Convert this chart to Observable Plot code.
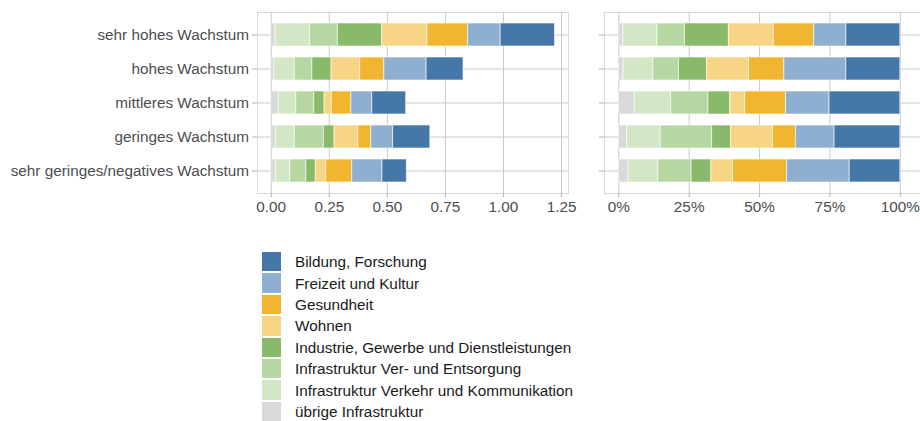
<!DOCTYPE html>
<html><head><meta charset="utf-8">
<script src="https://cdn.jsdelivr.net/npm/d3@7"></script>
<script src="https://cdn.jsdelivr.net/npm/@observablehq/plot@0.6"></script>
<style>
body{margin:0;background:#fff;font-family:"Liberation Sans",Arial,sans-serif;}
#wrap{position:relative;width:920px;height:421px;overflow:hidden;background:#fff;}
#left{position:absolute;left:0;top:0;}
#right{position:absolute;left:580px;top:0;}
#legend{position:absolute;left:262px;top:251px;}
.item{display:flex;align-items:center;height:21.4px;}
.sw{width:19px;height:19.4px;margin-right:14px;flex:none;}
.lab{font-size:15.3px;line-height:17px;color:#1a1a1a;white-space:nowrap;}
</style></head><body>
<div id="wrap"><div id="left"></div><div id="right"></div><div id="legend"></div></div>
<script>
// growth classes (rows, top to bottom)
const categories = ["sehr hohes Wachstum", "hohes Wachstum", "mittleres Wachstum", "geringes Wachstum", "sehr geringes/negatives Wachstum"];
// sectors in stacking order (left to right)
const sectors = ["übrige Infrastruktur", "Infrastruktur Verkehr und Kommunikation", "Infrastruktur Ver- und Entsorgung", "Industrie, Gewerbe und Dienstleistungen", "Wohnen", "Gesundheit", "Freizeit und Kultur", "Bildung, Forschung"];
const sectorColors = ["#d9d9d9", "#d3e6c6", "#b6d7a2", "#89ba69", "#f8d485", "#f2b530", "#8eafd0", "#4577a8"];
// values per sector, one per growth class
const uebrige    = [0.019, 0.014, 0.033, 0.020, 0.020];
const verkehr    = [0.149, 0.088, 0.075, 0.082, 0.062];
const verEnt     = [0.119, 0.075, 0.077, 0.125, 0.069];
const industrie  = [0.191, 0.083, 0.045, 0.046, 0.041];
const wohnen     = [0.195, 0.123, 0.031, 0.102, 0.045];
const gesundheit = [0.175, 0.104, 0.084, 0.056, 0.112];
const freizeit   = [0.140, 0.182, 0.090, 0.094, 0.130];
const bildung    = [0.234, 0.159, 0.146, 0.160, 0.105];
const seriesValues = [uebrige, verkehr, verEnt, industrie, wohnen, gesundheit, freizeit, bildung];
const leftTicks = [0, 0.25, 0.5, 0.75, 1.0, 1.25];
const rightTicks = [0, 0.25, 0.5, 0.75, 1.0];

const data = [];
categories.forEach((c, i) => sectors.forEach((s, j) => data.push({category: c, sector: s, value: seriesValues[j][i]})));

const gridColor = "#c9c9c9";
const frameColor = "#d9d9d9";
const textColor = "#4d4d4d";
const H = 224, MT = 12, MB = H - 193;

function panel({width, marginLeft, marginRight, domain, ticks, fmt, offset, labels}) {
  return Plot.plot({
    width, height: H, marginTop: MT, marginBottom: MB, marginLeft, marginRight,
    style: {fontFamily: "'Liberation Sans', Arial, sans-serif", fontSize: "15.3px", background: "white", overflow: "visible"},
    x: {domain, label: null},
    y: {domain: categories, type: "band", paddingInner: 0.32, paddingOuter: 0.26, label: null},
    color: {domain: sectors, range: sectorColors},
    marks: [
      Plot.frame({stroke: frameColor}),
      Plot.gridX(ticks, {stroke: gridColor, strokeOpacity: 1}),
      Plot.gridY(categories, {stroke: gridColor, strokeOpacity: 1}),
      Plot.barX(data, Plot.stackX({x: "value", y: "category", fill: "sector", order: sectors, offset, stroke: "white", strokeOpacity: 0.6, strokeWidth: 1})),
      Plot.axisX(ticks, {tickFormat: fmt, tickSize: 4, tickPadding: 4, stroke: "#b3b3b3", fill: textColor, label: null}),
      Plot.axisY({tickSize: 5, tickPadding: 3.5, stroke: "#b3b3b3", fill: textColor, label: null, tickFormat: labels ? (d => d) : (() => "")})
    ]
  });
}

document.getElementById("left").append(panel({
  width: 580, marginLeft: 257, marginRight: 12, domain: [-0.059, 1.280],
  ticks: leftTicks, fmt: d3.format(".2f"), offset: null, labels: true
}));
document.getElementById("right").append(panel({
  width: 340, marginLeft: 24, marginRight: 0, domain: [-0.0508, 1.0717],
  ticks: rightTicks, fmt: d3.format(".0%"), offset: "normalize", labels: false
}));

const legend = document.getElementById("legend");
sectors.slice().reverse().forEach((s) => {
  const j = sectors.indexOf(s);
  const item = document.createElement("div"); item.className = "item";
  const sw = document.createElement("div"); sw.className = "sw"; sw.style.background = sectorColors[j];
  const lab = document.createElement("div"); lab.className = "lab"; lab.textContent = s;
  item.append(sw, lab); legend.append(item);
});
</script>
</body></html>
